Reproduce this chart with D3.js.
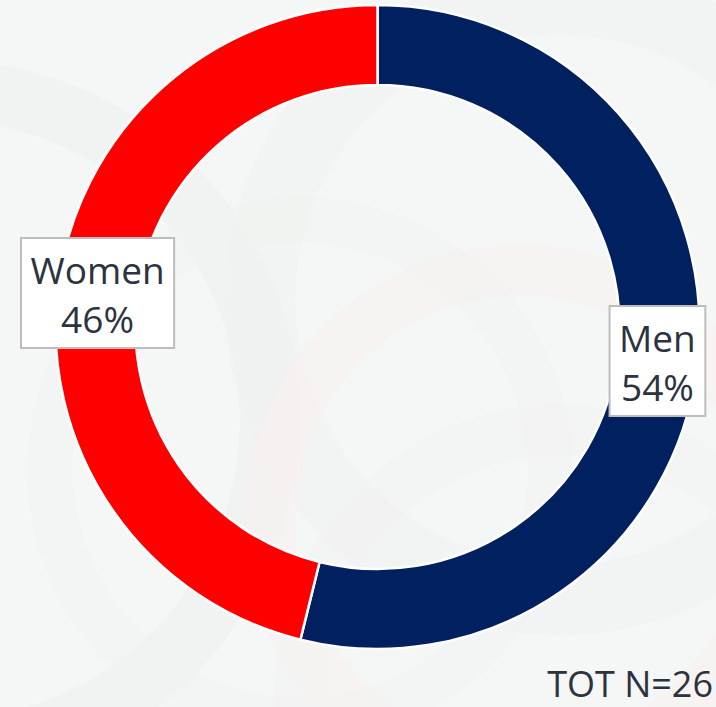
<!DOCTYPE html>
<html>
<head>
<meta charset="utf-8">
<script src="https://cdn.jsdelivr.net/npm/d3@7"></script>
<style>
  html, body { margin: 0; padding: 0; background: #f5f6f6; }
  svg { display: block; }
  text { font-family: "Open Sans", sans-serif; }
</style>
</head>
<body>
<script>
// ---- data ----
const categories = ["Men", "Women"];
const counts = [14, 12];
const percentLabels = ["54%", "46%"];
const colors = ["#002060", "#ff0000"];
const totalLabel = "TOT N=26";

const W = 716, H = 707;
const cx = 377.5, cy = 327, outerR = 322, innerR = 242;

const svg = d3.select("body").append("svg").attr("width", W).attr("height", H);

// faint background watermark shapes
const bg = svg.append("g").attr("fill", "none");
bg.append("rect").attr("width", W).attr("height", H).attr("fill", "#f5f6f6");
const wm = [
  {x: -60, y: 420, r: 330, c: "#eeeeee", w: 60},
  {x: 560, y: 300, r: 300, c: "#f0f0f0", w: 70},
  {x: 520, y: 520, r: 250, c: "#fbf0f0", w: 50},
  {x: 300, y: 470, r: 250, c: "#f0f4f0", w: 45},
  {x: 560, y: 690, r: 260, c: "#f1f1f1", w: 50}
];
wm.forEach(d => bg.append("circle").attr("cx", d.x).attr("cy", d.y).attr("r", d.r)
  .attr("stroke", d.c).attr("stroke-width", d.w).attr("opacity", 0.5));

const data = categories.map((c, i) => ({ name: c, value: counts[i], pct: percentLabels[i], color: colors[i] }));

const pie = d3.pie().value(d => d.value).sort(null);
const arc = d3.arc().innerRadius(innerR).outerRadius(outerR);
const arcs = pie(data);

const g = svg.append("g").attr("transform", `translate(${cx},${cy})`);
g.selectAll("path.slice").data(arcs).join("path")
  .attr("class", "slice")
  .attr("d", arc)
  .attr("fill", d => d.data.color)
  .attr("stroke", "#ffffff")
  .attr("stroke-width", 2.5)
  .attr("stroke-linejoin", "round");

// labels
const labelArc = d3.arc().innerRadius((innerR + outerR) / 2).outerRadius((innerR + outerR) / 2);
const lg = g.selectAll("g.lab").data(arcs).join("g").attr("class", "lab")
  .attr("transform", d => { const [x, y] = labelArc.centroid(d); return `translate(${x},${y})`; });

lg.each(function(d) {
  const sel = d3.select(this);
  const rect = sel.append("rect");
  const t1 = sel.append("text").attr("text-anchor", "middle").attr("y", -9)
    .attr("font-size", 37).attr("fill", "#2b3340").text(d.data.name);
  const t2 = sel.append("text").attr("text-anchor", "middle").attr("y", 40)
    .attr("font-size", 37).attr("fill", "#2b3340").text(d.data.pct);
  const w = Math.max(t1.node().getComputedTextLength(), t2.node().getComputedTextLength()) + 19;
  const h = 110;
  rect.attr("x", -w / 2).attr("y", -h / 2).attr("width", w).attr("height", h)
    .attr("fill", "#ffffff").attr("stroke", "#bdbdbd").attr("stroke-width", 2);
});

svg.append("text").attr("x", 713).attr("y", 697).attr("text-anchor", "end")
  .attr("font-size", 36).attr("fill", "#2b3340").text(totalLabel);
</script>
</body>
</html>
